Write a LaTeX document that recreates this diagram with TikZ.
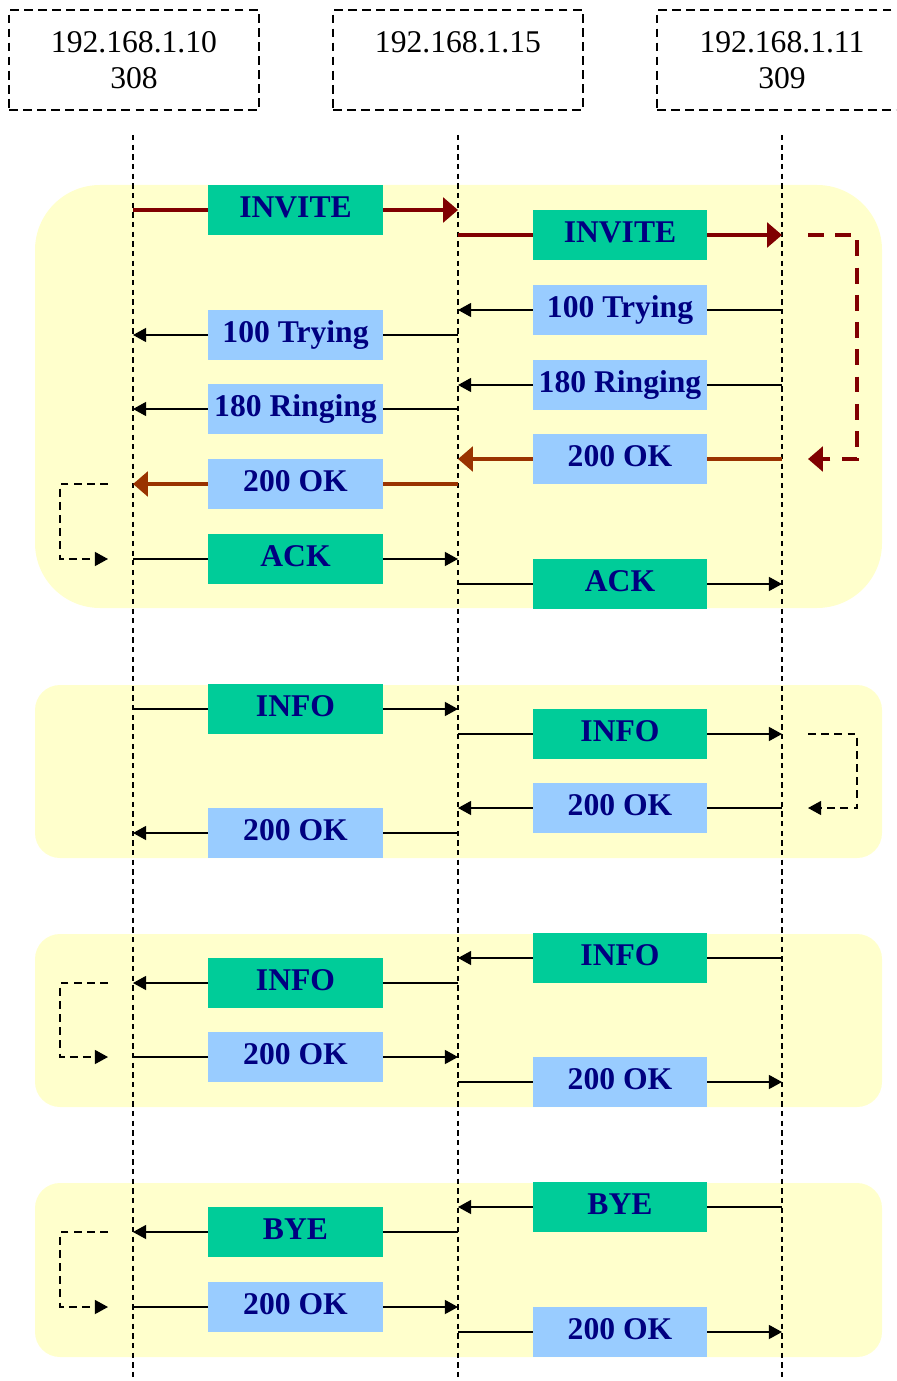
\documentclass[tikz,border=0pt]{standalone}
\usepackage{fontspec}
\setmainfont{Liberation Serif}
\usepackage{xcolor}
\usepackage{tikz}
\usetikzlibrary{arrows.meta, positioning}
\definecolor{dialogyellow}{RGB}{255, 255, 204}
\definecolor{reqgreen}{RGB}{0, 204, 153}
\definecolor{respblue}{RGB}{153, 204, 255}
\definecolor{invitered}{RGB}{128, 0, 0}
\definecolor{okbrown}{RGB}{153, 51, 0}
\definecolor{labelnavy}{RGB}{0, 0, 128}

\begin{document}
\begin{tikzpicture}[x=0.02cm, y=-0.02cm,
                hostbox/.style={draw, line width=0.9pt, dash pattern=on 5pt off 3pt,
                                minimum width=5cm, minimum height=2cm, align=center,
                                font=\fontsize{18}{20.5}\selectfont},
                lifeline/.style={line width=0.9pt, dash pattern=on 3pt off 2.5pt},
                dialog/.style={fill=dialogyellow, draw=none},
                req/.style={fill=reqgreen, minimum width=3.5cm, minimum height=1cm,
                            inner sep=0pt, text=labelnavy, text height=13pt, text depth=4pt,
                            font=\fontsize{18}{21}\selectfont\bfseries},
                resp/.style={req, fill=respblue},
                msg/.style={line width=0.9pt, -{Triangle[length=7.5pt, width=8pt]}},
                invitemsg/.style={line width=2.2pt, invitered,
                                  -{Triangle[length=8.5pt, width=14pt]}},
                okmsg/.style={invitemsg, okbrown},
                loopback/.style={msg, dash pattern=on 4.5pt off 3pt},
                redloop/.style={invitemsg, dash pattern=on 9pt off 6.5pt}]
                \useasboundingbox (0,0) rectangle (896,1381);
                \clip (0,0) rectangle (896,1381);

                \fill[dialog, rounded corners=1.3cm] (35,185) rectangle (882,608);
                \fill[dialog, rounded corners=0.5cm] (35,685) rectangle (882,858);
                \fill[dialog, rounded corners=0.5cm] (35,934) rectangle (882,1107);
                \fill[dialog, rounded corners=0.5cm] (35,1183) rectangle (882,1357);

                \node[hostbox] (h1) at (134,60) {192.168.1.10\\308};
                \node[hostbox] (h2) at (458,60) {192.168.1.15\\~};
                \node[hostbox] (h3) at (782,60) {192.168.1.11\\309};

                \foreach \n/\x in {1/133, 2/458, 3/782} {
                    \coordinate (top\n) at (\x,135);
                    \coordinate (end\n) at (\x,1381);
                    \draw[lifeline] (top\n) -- (end\n);
                }
                \foreach \y in {210,235,310,335,385,409,459,484,559,584,709,734,808,833,
                                958,983,1057,1082,1207,1232,1307,1332} {
                    \coordinate (L\y) at (133,\y);
                    \coordinate (M\y) at (458,\y);
                    \coordinate (R\y) at (782,\y);
                    \coordinate (LL\y) at (108,\y);
                    \coordinate (RR\y) at (808,\y);
                }

                \draw[invitemsg] (L210) -- node[req] (inv1) {INVITE} (M210);
                \draw[invitemsg] (M235) -- node[req] (inv2) {INVITE} (R235);
                \draw[redloop] (RR235) -- ++(49,0) |- (RR459);
                \draw[msg] (R310) -- node[resp] (try2) {100 Trying} (M310);
                \draw[msg] (M335) -- node[resp] (try1) {100 Trying} (L335);
                \draw[msg] (R385) -- node[resp] (ring2) {180 Ringing} (M385);
                \draw[msg] (M409) -- node[resp] (ring1) {180 Ringing} (L409);
                \draw[okmsg] (R459) -- node[resp] (ok2) {200 OK} (M459);
                \draw[okmsg] (M484) -- node[resp] (ok1) {200 OK} (L484);
                \draw[loopback] (LL484) -- ++(-48,0) |- (LL559);
                \draw[msg] (L559) -- node[req] (ack1) {ACK} (M559);
                \draw[msg] (M584) -- node[req] (ack2) {ACK} (R584);

                \draw[msg] (L709) -- node[req] (info1) {INFO} (M709);
                \draw[msg] (M734) -- node[req] (info2) {INFO} (R734);
                \draw[loopback] (RR734) -- ++(49,0) |- (RR808);
                \draw[msg] (R808) -- node[resp] (infook2) {200 OK} (M808);
                \draw[msg] (M833) -- node[resp] (infook1) {200 OK} (L833);

                \draw[msg] (R958) -- node[req] (rinfo2) {INFO} (M958);
                \draw[msg] (M983) -- node[req] (rinfo1) {INFO} (L983);
                \draw[loopback] (LL983) -- ++(-48,0) |- (LL1057);
                \draw[msg] (L1057) -- node[resp] (rinfook1) {200 OK} (M1057);
                \draw[msg] (M1082) -- node[resp] (rinfook2) {200 OK} (R1082);

                \draw[msg] (R1207) -- node[req] (bye2) {BYE} (M1207);
                \draw[msg] (M1232) -- node[req] (bye1) {BYE} (L1232);
                \draw[loopback] (LL1232) -- ++(-48,0) |- (LL1307);
                \draw[msg] (L1307) -- node[resp] (byeok1) {200 OK} (M1307);
                \draw[msg] (M1332) -- node[resp] (byeok2) {200 OK} (R1332);
            \end{tikzpicture}
\end{document}
